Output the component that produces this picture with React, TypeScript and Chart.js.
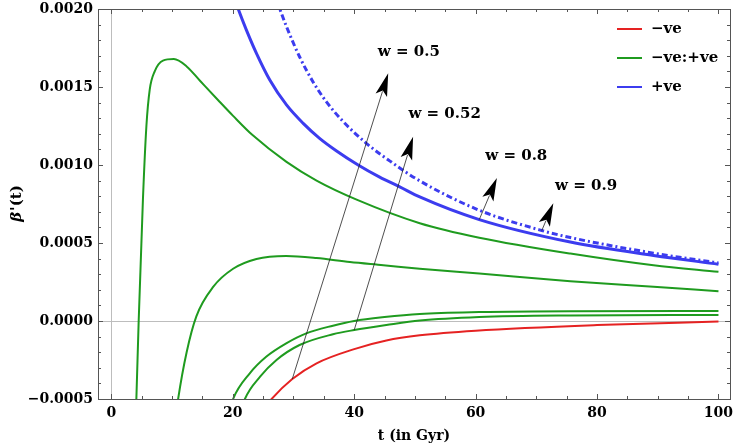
import React, { useEffect, useRef } from 'react';
import { Chart, registerables } from 'chart.js';

Chart.register(...registerables);

const FONT_FAMILY = '"DejaVu Serif", "Liberation Serif", serif';
const SCALE = 1e-3; // curve values below are in units of 1e-3

// x ticks and y ticks
const xTickValues = [0, 20, 40, 60, 80, 100];
const yTickValues = [-0.0005, 0, 0.0005, 0.001, 0.0015, 0.002];

// green curves (-ve:+ve)
const tGreenA = [3.9, 4.12, 4.5, 5.2, 5.77, 6.32, 7.14, 8.5, 10.3, 12.4, 14.6, 17.6, 20.05, 23.3, 28.85, 33.8, 40.4, 50.8, 60.6, 75.6, 89.3, 100];
const greenA = [-0.75, -0.5, 0, 0.778, 1.248, 1.483, 1.6, 1.669, 1.679, 1.632, 1.54, 1.415, 1.315, 1.19, 1.02, 0.9, 0.778, 0.627, 0.534, 0.432, 0.357, 0.315];

const tGreenB = [10.8, 11.0, 12.4, 14.0, 16.8, 20.05, 23.9, 28.8, 33.8, 39.3, 44.8, 50.8, 60.6, 75.6, 89.3, 100];
const greenB = [-0.56, -0.5, -0.2, 0.03, 0.22, 0.335, 0.398, 0.417, 0.404, 0.378, 0.358, 0.335, 0.304, 0.255, 0.219, 0.191];

const tGreenC = [19.6, 20.05, 22.8, 25.5, 28.8, 32.1, 36.5, 40.0, 45.0, 50.8, 60.6, 75.6, 100];
const greenC = [-0.56, -0.5, -0.335, -0.229, -0.143, -0.079, -0.03, 0.0, 0.025, 0.045, 0.057, 0.063, 0.064];

const tGreenD = [21.6, 22.0, 24.5, 27.2, 31.0, 36.5, 40.0, 45.3, 50.8, 60.6, 75.6, 100];
const greenD = [-0.55, -0.5, -0.357, -0.25, -0.154, -0.085, -0.058, -0.026, 0.003, 0.026, 0.036, 0.039];

// red curve (-ve)
const tRed = [26.0, 26.4, 29.8, 33.8, 40.0, 45.3, 50.8, 60.0, 80.0, 100];
const red = [-0.52, -0.5, -0.372, -0.271, -0.18, -0.125, -0.092, -0.062, -0.026, -0.004];

// blue curves (+ve), solid and dash-dot
const tBlue = [20.5, 20.9, 22.25, 23.9, 26.1, 28.85, 31.6, 34.3, 37.1, 40.65, 44.2, 47.5, 50.8, 60.6, 75.6, 89.3, 100];
const blue = [2.045, 2.0, 1.865, 1.716, 1.545, 1.385, 1.267, 1.171, 1.09, 1.0, 0.922, 0.86, 0.795, 0.65, 0.506, 0.42, 0.364];

const tBlueDash = [27.3, 27.75, 28.85, 31.0, 33.2, 35.4, 38.2, 42.0, 45.9, 50.5, 60.6, 70.9, 75.6, 89.3, 100];
const blueDash = [2.05, 2.0, 1.887, 1.694, 1.534, 1.406, 1.278, 1.139, 1.025, 0.905, 0.71, 0.58, 0.535, 0.435, 0.372];

// annotation arrows
const arrowLabels = ['w = 0.5', 'w = 0.52', 'w = 0.8', 'w = 0.9'];
const arrowFromT = [29.8, 40.0, 60.6, 70.9];
const arrowFromV = [-0.372, -0.058, 0.65, 0.58];
const arrowToT = [45.6, 49.7, 63.5, 72.8];
const arrowToV = [1.588, 1.181, 0.917, 0.755];
const labelT = [49.0, 54.9, 66.7, 78.2];
const labelV = [1.724, 1.324, 1.056, 0.863];

const legendLabels = ['\u2212ve', '\u2212ve:+ve', '+ve'];

const RED = '#e52222';
const GREEN = '#1f9b1f';
const BLUE = '#3c3cef';
const FRAME = '#555555';

const pts = (ts: number[], vs: number[]) => ts.map((t, i) => ({ x: t, y: vs[i] * SCALE }));

const framePlugin = {
  id: 'frameTicks',
  beforeDatasetsDraw(chart: any) {
    const { ctx, chartArea: a, scales } = chart;
    const x0 = scales.x.getPixelForValue(0);
    const y0 = scales.y.getPixelForValue(0);
    ctx.save();
    ctx.strokeStyle = '#bdbdbd';
    ctx.lineWidth = 1;
    ctx.beginPath();
    ctx.moveTo(Math.round(x0) + 0.5, a.top);
    ctx.lineTo(Math.round(x0) + 0.5, a.bottom);
    ctx.moveTo(a.left, Math.round(y0) + 0.5);
    ctx.lineTo(a.right, Math.round(y0) + 0.5);
    ctx.stroke();
    ctx.restore();
  },
  afterDatasetsDraw(chart: any) {
    const { ctx, chartArea: a, scales } = chart;
    ctx.save();
    ctx.strokeStyle = FRAME;
    ctx.lineWidth = 1;
    ctx.strokeRect(Math.round(a.left) + 0.5, Math.round(a.top) + 0.5, Math.round(a.right - a.left), Math.round(a.bottom - a.top));
    ctx.beginPath();
    for (let t = 0; t <= 100; t += 5) {
      const len = t % 20 === 0 ? 5 : 3;
      const px = Math.round(scales.x.getPixelForValue(t)) + 0.5;
      ctx.moveTo(px, a.bottom);
      ctx.lineTo(px, a.bottom - len);
      ctx.moveTo(px, a.top);
      ctx.lineTo(px, a.top + len);
    }
    for (let k = -5; k <= 20; k++) {
      const len = k % 5 === 0 ? 5 : 3;
      const py = Math.round(scales.y.getPixelForValue(k * 0.0001)) + 0.5;
      ctx.moveTo(a.left, py);
      ctx.lineTo(a.left + len, py);
      ctx.moveTo(a.right, py);
      ctx.lineTo(a.right - len, py);
    }
    ctx.stroke();

    // arrows and their labels
    ctx.strokeStyle = '#222222';
    ctx.fillStyle = '#000000';
    arrowLabels.forEach((label, i) => {
      const x1 = scales.x.getPixelForValue(arrowFromT[i]);
      const y1 = scales.y.getPixelForValue(arrowFromV[i] * SCALE);
      const x2 = scales.x.getPixelForValue(arrowToT[i]);
      const y2 = scales.y.getPixelForValue(arrowToV[i] * SCALE);
      const ang = Math.atan2(y2 - y1, x2 - x1);
      const headLen = 23;
      const headHalf = 6;
      const bx = x2 - headLen * Math.cos(ang);
      const by = y2 - headLen * Math.sin(ang);
      ctx.lineWidth = 0.8;
      ctx.beginPath();
      ctx.moveTo(x1, y1);
      ctx.lineTo(bx + 4 * Math.cos(ang), by + 4 * Math.sin(ang));
      ctx.stroke();
      const nx = -Math.sin(ang);
      const ny = Math.cos(ang);
      const ix = x2 - (headLen - 5) * Math.cos(ang);
      const iy = y2 - (headLen - 5) * Math.sin(ang);
      ctx.beginPath();
      ctx.moveTo(x2, y2);
      ctx.lineTo(bx + headHalf * nx, by + headHalf * ny);
      ctx.lineTo(ix, iy);
      ctx.lineTo(bx - headHalf * nx, by - headHalf * ny);
      ctx.closePath();
      ctx.fill();

      ctx.font = `bold 15px ${FONT_FAMILY}`;
      ctx.textAlign = 'center';
      ctx.textBaseline = 'middle';
      ctx.fillText(label, scales.x.getPixelForValue(labelT[i]), scales.y.getPixelForValue(labelV[i] * SCALE));
    });

    // legend in the top right corner
    const colors = [RED, GREEN, BLUE];
    ctx.font = `bold 15px ${FONT_FAMILY}`;
    ctx.textAlign = 'left';
    ctx.textBaseline = 'middle';
    legendLabels.forEach((label, i) => {
      const ly = a.top + 20 + i * 29;
      const lx = a.right - 113;
      ctx.strokeStyle = colors[i];
      ctx.lineWidth = 2;
      ctx.beginPath();
      ctx.moveTo(lx, ly);
      ctx.lineTo(lx + 25, ly);
      ctx.stroke();
      ctx.fillStyle = '#000000';
      ctx.fillText(label, lx + 34, ly);
    });

    // y axis title with an italic beta
    const cy = (a.top + a.bottom) / 2;
    ctx.translate(17, cy);
    ctx.rotate(-Math.PI / 2);
    ctx.font = `italic bold 15px ${FONT_FAMILY}`;
    const wBeta = ctx.measureText('\u03b2').width;
    ctx.font = `bold 15px ${FONT_FAMILY}`;
    const wRest = ctx.measureText("'(t)").width;
    const start = -(wBeta + wRest) / 2;
    ctx.font = `italic bold 15px ${FONT_FAMILY}`;
    ctx.fillText('\u03b2', start, 0);
    ctx.font = `bold 15px ${FONT_FAMILY}`;
    ctx.fillText("'(t)", start + wBeta + 1, 0);
    ctx.restore();
  },
};

const App: React.FC = () => {
  const canvasRef = useRef<HTMLCanvasElement>(null);
  const chartRef = useRef<Chart | null>(null);

  useEffect(() => {
    if (!canvasRef.current) return;
    if (chartRef.current) chartRef.current.destroy();

    const line = (data: { x: number; y: number }[], color: string, width: number, dash: number[] = []) => ({
      data,
      borderColor: color,
      borderWidth: width,
      borderDash: dash,
      pointRadius: 0,
      fill: false,
      cubicInterpolationMode: 'monotone' as const,
    });

    chartRef.current = new Chart(canvasRef.current, {
      type: 'line',
      data: {
        datasets: [
          line(pts(tGreenA, greenA), GREEN, 2),
          line(pts(tGreenB, greenB), GREEN, 2),
          line(pts(tGreenC, greenC), GREEN, 2),
          line(pts(tGreenD, greenD), GREEN, 2),
          line(pts(tRed, red), RED, 2),
          line(pts(tBlueDash, blueDash), BLUE, 3, [6, 3, 2, 3]),
          line(pts(tBlue, blue), BLUE, 3),
        ],
      },
      options: {
        responsive: true,
        maintainAspectRatio: false,
        animation: false,
        layout: { padding: { top: 9, right: 4, left: 0, bottom: 0 } },
        plugins: { legend: { display: false }, tooltip: { enabled: false } },
        scales: {
          x: {
            type: 'linear',
            min: -2.2,
            max: 101.9,
            afterBuildTicks: (scale: any) => {
              scale.ticks = xTickValues.map(v => ({ value: v }));
            },
            afterFit: (scale: any) => {
              scale.height = 47;
              scale.paddingLeft = 0;
              scale.paddingRight = 0;
            },
            ticks: {
              color: '#000',
              padding: 6,
              maxRotation: 0,
              font: { family: FONT_FAMILY, size: 14, weight: 'bold' },
              callback: (v: any) => String(v),
            },
            grid: { display: false, drawTicks: false },
            border: { display: false },
            title: {
              display: true,
              text: 't (in Gyr)',
              color: '#000',
              font: { family: FONT_FAMILY, size: 14, weight: 'bold' },
              padding: { top: 0, bottom: 1 },
            },
          },
          y: {
            type: 'linear',
            min: -0.0005,
            max: 0.002,
            afterBuildTicks: (scale: any) => {
              scale.ticks = yTickValues.map(v => ({ value: v }));
            },
            afterFit: (scale: any) => {
              scale.width = 98;
              scale.paddingTop = 0;
              scale.paddingBottom = 0;
            },
            ticks: {
              color: '#000',
              padding: 5,
              font: { family: FONT_FAMILY, size: 14, weight: 'bold' },
              callback: (v: any) => Number(v).toFixed(4).replace('-', '\u2212'),
            },
            grid: { display: false, drawTicks: false },
            border: { display: false },
          },
        },
      },
      plugins: [framePlugin],
    });

    return () => {
      if (chartRef.current) {
        chartRef.current.destroy();
        chartRef.current = null;
      }
    };
  }, []);

  return (
    <div style={{ position: 'fixed', left: 0, top: 0, width: 734, height: 446, background: '#fff' }}>
      <canvas ref={canvasRef} style={{ display: 'block' }}></canvas>
    </div>
  );
};

export default App;
